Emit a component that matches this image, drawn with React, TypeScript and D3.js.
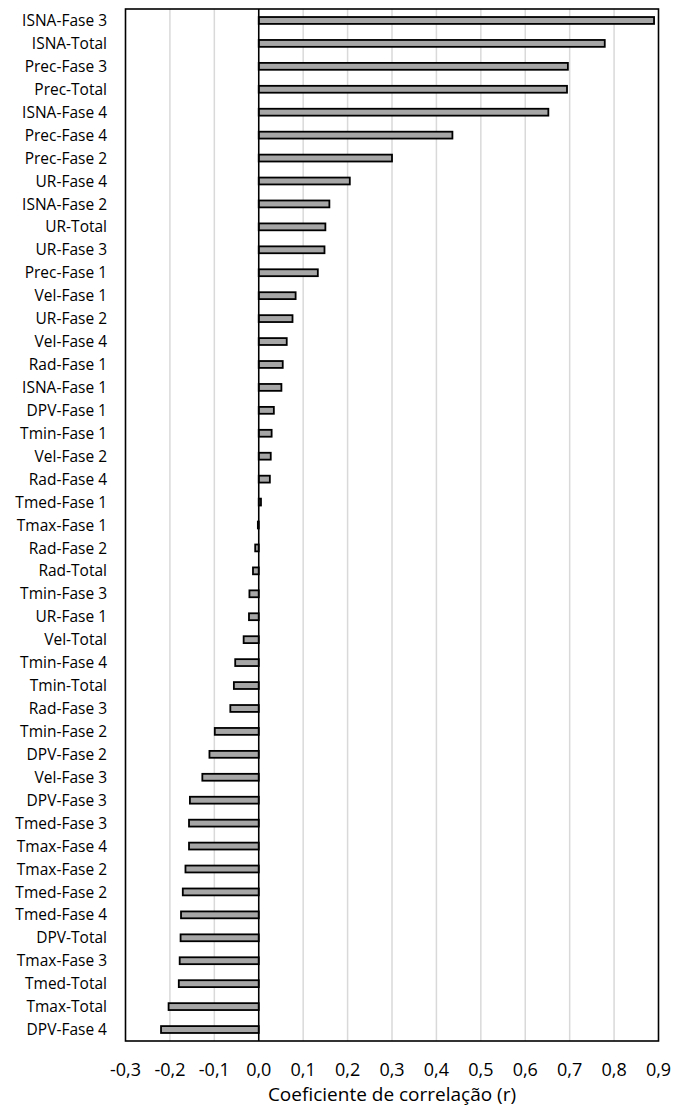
import React from "react";
import * as d3 from "d3";

const categories = [
  "ISNA-Fase 3", "ISNA-Total", "Prec-Fase 3", "Prec-Total", "ISNA-Fase 4",
  "Prec-Fase 4", "Prec-Fase 2", "UR-Fase 4", "ISNA-Fase 2", "UR-Total",
  "UR-Fase 3", "Prec-Fase 1", "Vel-Fase 1", "UR-Fase 2", "Vel-Fase 4",
  "Rad-Fase 1", "ISNA-Fase 1", "DPV-Fase 1", "Tmin-Fase 1", "Vel-Fase 2",
  "Rad-Fase 4", "Tmed-Fase 1", "Tmax-Fase 1", "Rad-Fase 2", "Rad-Total",
  "Tmin-Fase 3", "UR-Fase 1", "Vel-Total", "Tmin-Fase 4", "Tmin-Total",
  "Rad-Fase 3", "Tmin-Fase 2", "DPV-Fase 2", "Vel-Fase 3", "DPV-Fase 3",
  "Tmed-Fase 3", "Tmax-Fase 4", "Tmax-Fase 2", "Tmed-Fase 2", "Tmed-Fase 4",
  "DPV-Total", "Tmax-Fase 3", "Tmed-Total", "Tmax-Total", "DPV-Fase 4",
];

const values = [
  0.890, 0.779, 0.696, 0.694, 0.652,
  0.436, 0.300, 0.205, 0.159, 0.150,
  0.148, 0.133, 0.083, 0.076, 0.063,
  0.054, 0.051, 0.034, 0.029, 0.027,
  0.025, 0.005, -0.002, -0.008, -0.013,
  -0.021, -0.022, -0.034, -0.053, -0.056,
  -0.064, -0.099, -0.111, -0.127, -0.155,
  -0.157, -0.157, -0.165, -0.171, -0.175,
  -0.176, -0.178, -0.180, -0.203, -0.220,
];

const xTicks = [-0.3, -0.2, -0.1, 0, 0.1, 0.2, 0.3, 0.4, 0.5, 0.6, 0.7, 0.8, 0.9];
const xTitle = "Coeficiente de correlação (r)";

const W = 675;
const H = 1108;
const left = 125.5;
const right = 658.5;
const top = 9;
const bottom = 1041;
const font = "'Open Sans', Lato, sans-serif";

export default function App() {
  const x = d3.scaleLinear().domain([-0.3, 0.9]).range([left, right]);
  const y = d3.scaleBand<string>().domain(categories).range([top, bottom]);
  const bh = y.bandwidth() * 0.3;
  const fmt = (v: number) => d3.format(".1f")(v).replace(".", ",").replace("−", "-");

  return (
    <svg width={W} height={H} style={{ position: "absolute", left: 0, top: 0, background: "#fff" }}>
      <rect x={0} y={0} width={W} height={H} fill="#fff" />
      {xTicks.filter((t) => t !== 0 && t > -0.3 && t < 0.9).map((t) => (
        <line key={t} x1={x(t)} x2={x(t)} y1={top} y2={bottom} stroke="#d9d9d9" strokeWidth={1.5} />
      ))}
      {categories.map((c, i) => {
        const v = values[i];
        const x0 = x(Math.min(0, v));
        const x1 = x(Math.max(0, v));
        const cy = (y(c) as number) + y.bandwidth() / 2;
        return (
          <g key={c}>
            <rect x={x0} y={cy - bh / 2} width={Math.max(0.5, x1 - x0)} height={bh}
              fill="#a6a6a6" stroke="#000" strokeWidth={1.8} />
            <text x={107} y={cy} dy="0.36em" textAnchor="end" fontFamily={font} fontSize={15.5} fill="#000">{c}</text>
          </g>
        );
      })}
      <line x1={x(0)} x2={x(0)} y1={top} y2={bottom} stroke="#000" strokeWidth={1.6} />
      <rect x={left} y={top} width={right - left} height={bottom - top} fill="none" stroke="#000" strokeWidth={1.6} />
      {xTicks.map((t) => (
        <text key={t} x={x(t)} y={1070} dy="0.36em" textAnchor="middle" fontFamily={font} fontSize={18} fill="#000">{fmt(t)}</text>
      ))}
      <text x={(left + right) / 2} y={1094} dy="0.36em" textAnchor="middle" fontFamily={font} fontSize={19} fill="#000">{xTitle}</text>
    </svg>
  );
}
